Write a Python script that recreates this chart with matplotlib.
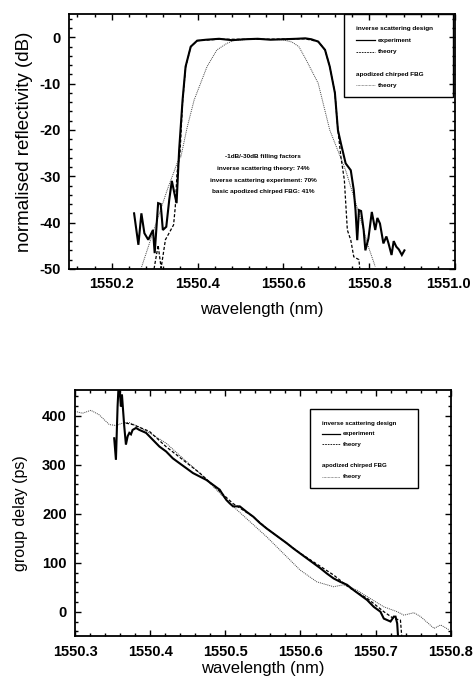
# normalised reflectivity and group delay of inverse scattering vs apodized chirped FBG
import numpy as np
import matplotlib.pyplot as plt
from matplotlib.ticker import MultipleLocator
from matplotlib.patches import Rectangle
from matplotlib.transforms import ScaledTranslation

plt.rcParams['font.family'] = ['Liberation Sans', 'DejaVu Sans']
plt.rcParams['axes.unicode_minus'] = False

# ---- reflectivity panel (dB) ----
refl_exp_wl = [1550.252, 1550.262, 1550.269, 1550.276, 1550.285, 1550.296, 1550.300, 1550.308,
               1550.314, 1550.319, 1550.327, 1550.334, 1550.340, 1550.346, 1550.351, 1550.357,
               1550.365, 1550.372, 1550.384, 1550.399, 1550.42, 1550.45, 1550.48, 1550.51,
               1550.54, 1550.57, 1550.60, 1550.63, 1550.651, 1550.665, 1550.681, 1550.697,
               1550.708, 1550.720, 1550.727, 1550.734, 1550.745, 1550.757, 1550.764, 1550.768,
               1550.772, 1550.776, 1550.781, 1550.787, 1550.791, 1550.798, 1550.806, 1550.814,
               1550.819, 1550.825, 1550.833, 1550.840, 1550.845, 1550.852, 1550.857, 1550.863,
               1550.869, 1550.876, 1550.882]
refl_exp_db = [-38.0, -44.8, -38.0, -42.3, -43.7, -41.6, -46.6, -35.8,
               -36.0, -41.6, -40.9, -35.0, -31.0, -33.7, -35.8, -24.3,
               -13.5, -6.3, -2.0, -0.7, -0.5, -0.3, -0.6, -0.4,
               -0.3, -0.5, -0.4, -0.3, -0.2, -0.4, -0.9, -2.7,
               -6.3, -12.0, -20.0, -22.9, -27.2, -28.7, -33.0, -37.3,
               -43.8, -37.3, -37.5, -41.6, -46.0, -43.5, -37.7, -41.6,
               -39.0, -40.2, -44.5, -43.0, -44.5, -47.0, -44.0, -45.2,
               -45.8, -47.0, -46.0]

refl_inv_wl = [1550.2985, 1550.308, 1550.315, 1550.325, 1550.344, 1550.348, 1550.352, 1550.359,
               1550.365, 1550.372, 1550.384, 1550.399, 1550.45, 1550.55, 1550.65, 1550.681,
               1550.697, 1550.708, 1550.720, 1550.727, 1550.734, 1550.742, 1550.749, 1550.757,
               1550.764, 1550.776, 1550.778]
refl_inv_db = [-50.0, -44.9, -49.8, -43.7, -40.5, -36.6, -29.3, -25.0,
               -14.0, -6.5, -2.0, -0.7, -0.4, -0.4, -0.3, -0.9,
               -2.7, -6.3, -12.0, -20.0, -25.8, -30.8, -41.6, -43.8,
               -47.4, -48.0, -50.0]

refl_apo_wl = [1550.268, 1550.298, 1550.329, 1550.355, 1550.361, 1550.376, 1550.392, 1550.407,
               1550.422, 1550.445, 1550.468, 1550.483, 1550.52, 1550.56, 1550.598, 1550.620,
               1550.636, 1550.651, 1550.681, 1550.708, 1550.745, 1550.776, 1550.798, 1550.814]
refl_apo_db = [-50.0, -41.6, -33.0, -26.5, -25.8, -19.3, -13.5, -9.9,
               -6.3, -2.7, -1.3, -0.7, -0.4, -0.4, -0.5, -1.0,
               -2.0, -4.5, -9.9, -20.0, -28.7, -38.0, -45.2, -49.5]

# ---- group delay panel (ps) ----
gd_exp_wl = [1550.3521, 1550.3544, 1550.3566, 1550.3579, 1550.3597, 1550.3610, 1550.3624, 1550.3642,
             1550.3655, 1550.3677, 1550.3700, 1550.3722, 1550.3744, 1550.3766, 1550.3811, 1550.3856,
             1550.3945, 1550.4034, 1550.4123, 1550.4212, 1550.4301, 1550.4390, 1550.4480, 1550.4569,
             1550.4658, 1550.4747, 1550.4836, 1550.4925, 1550.4970, 1550.5014, 1550.5059, 1550.5103,
             1550.5192, 1550.5282, 1550.5371, 1550.5460, 1550.5549, 1550.5638, 1550.5727, 1550.5816,
             1550.5906, 1550.5995, 1550.6084, 1550.6173, 1550.6262, 1550.6351, 1550.6440, 1550.6529,
             1550.6619, 1550.6708, 1550.6797, 1550.6886, 1550.6975, 1550.7064, 1550.7109, 1550.7198,
             1550.7242, 1550.7265, 1550.7287, 1550.7300]
gd_exp_ps = [354, 310, 419, 460, 446, 419, 443, 405,
             378, 341, 358, 365, 362, 371, 375, 371,
             365, 351, 337, 327, 313, 303, 293, 283,
             276, 269, 259, 249, 238, 228, 221, 215,
             215, 204, 194, 181, 170, 160, 150, 140,
             129, 119, 109, 99, 89, 78, 68, 61,
             55, 44, 34, 24, 10, 0, -14, -20,
             -10, -10, -24, -55]

gd_inv_wl = [1550.3677, 1550.3766, 1550.399, 1550.421, 1550.466, 1550.510, 1550.537, 1550.555,
             1550.600, 1550.644, 1550.666, 1550.689, 1550.711, 1550.724, 1550.733, 1550.735]
gd_inv_ps = [385, 382, 368, 337, 283, 221, 194, 170,
             119, 75, 48, 27, 0, -14, -17, -55]

gd_apo_wl = [1550.300, 1550.3098, 1550.321, 1550.332, 1550.3455, 1550.3544, 1550.3633, 1550.3722,
             1550.3856, 1550.4034, 1550.4212, 1550.4435, 1550.4658, 1550.488, 1550.5103, 1550.5326,
             1550.5549, 1550.5772, 1550.5995, 1550.6217, 1550.644, 1550.6574, 1550.6752, 1550.6886,
             1550.7109, 1550.7287, 1550.7376, 1550.751, 1550.7599, 1550.7777, 1550.7866, 1550.7978]
gd_apo_ps = [409, 405, 411, 402, 382, 380, 385, 386,
             377, 361, 344, 313, 283, 249, 215, 184,
             153, 119, 85, 61, 51, 55, 44, 31,
             10, 0, -7, -2, -10, -34, -27, -37]

notes = ['-1dB/-30dB filling factors', 'inverse scattering theory: 74%',
         'inverse scattering experiment: 70%', 'basic apodized chirped FBG: 41%']

fig = plt.figure(figsize=(4.75, 6.79), dpi=100)
ax1 = fig.add_axes([0.145, 0.604, 0.813, 0.375])
ax2 = fig.add_axes([0.158, 0.063, 0.791, 0.363])

exp_kw = dict(color='black', lw=1.5, solid_joinstyle='miter')
inv_kw = dict(color='black', lw=0.9, linestyle=(0, (2.5, 1.5)))
apo_kw = dict(color='#444444', lw=0.7, linestyle=(0, (1, 1)))

ax1.plot(refl_apo_wl, refl_apo_db, **apo_kw)
ax1.plot(refl_inv_wl, refl_inv_db, **inv_kw)
ax1.plot(refl_exp_wl, refl_exp_db, **exp_kw)
ax1.set_xlim(1550.1, 1551.0)
ax1.set_ylim(-50, 5)
ax1.xaxis.set_minor_locator(MultipleLocator(0.04))
ax1.yaxis.set_major_locator(MultipleLocator(10))
ax1.yaxis.set_minor_locator(MultipleLocator(2))
ax1.set_xticks([1550.2, 1550.4, 1550.6, 1550.8, 1551.0])
ax1.set_xticklabels(['1550.2', '1550.4', '1550.6', '1550.8', '1551.0'])
ax1.set_xlabel('wavelength (nm)', fontsize=12, labelpad=8)
ax1.set_ylabel('normalised reflectivity (dB)', fontsize=13.5, labelpad=4)

for i, t in enumerate(notes):
    ax1.text(0.503, 0.443 - i * 0.047, t, transform=ax1.transAxes, ha='center', va='center',
             fontsize=4.6, fontweight='bold')

ax2.plot(gd_apo_wl, gd_apo_ps, **apo_kw)
ax2.plot(gd_inv_wl, gd_inv_ps, **inv_kw)
ax2.plot(gd_exp_wl, gd_exp_ps, **exp_kw)
ax2.set_xlim(1550.3, 1550.8)
ax2.set_ylim(-50, 453)
ax2.xaxis.set_minor_locator(MultipleLocator(0.02))
ax2.yaxis.set_major_locator(MultipleLocator(100))
ax2.yaxis.set_minor_locator(MultipleLocator(20))
ax2.set_xticks([1550.3, 1550.4, 1550.5, 1550.6, 1550.7, 1550.8])
ax2.set_xticklabels(['1550.3', '1550.4', '1550.5', '1550.6', '1550.7', '1550.8'])
ax2.set_xlabel('wavelength (nm)', fontsize=12, labelpad=2)
ax2.set_ylabel('group delay (ps)', fontsize=11.5, labelpad=10)

for ax in (ax1, ax2):
    ax.tick_params(which='both', direction='in', top=True, right=True, width=1.0)
    ax.tick_params(which='major', length=4, labelsize=10.5, pad=6)
    ax.tick_params(which='minor', length=2)
    for lab in ax.get_xticklabels() + ax.get_yticklabels():
        lab.set_fontweight('bold')
    for s in ax.spines.values():
        s.set_linewidth(1.3)

# keep the last top-panel tick label inside the figure edge
last = ax1.get_xticklabels()[-1]
last.set_transform(last.get_transform() + ScaledTranslation(-5 / 72, 0, fig.dpi_scale_trans))


def legend_box(ax, x0, x1, y0, y1, rows, line_x0, line_x1, fs):
    ax.add_patch(Rectangle((x0, y0), x1 - x0, y1 - y0, transform=ax.transAxes,
                           fill=False, lw=1.0, color='black', clip_on=False))
    for y, txt, kw in rows:
        if kw is None:
            ax.text(line_x0, y, txt, transform=ax.transAxes, fontsize=fs, fontweight='bold',
                    va='center', ha='left')
        else:
            ax.plot([line_x0, line_x1], [y, y], transform=ax.transAxes, **kw)
            ax.text(line_x1 + 0.008, y, txt, transform=ax.transAxes, fontsize=fs,
                    fontweight='bold', va='center', ha='left')


leg_exp = dict(color='black', lw=0.9)
leg_inv = dict(color='black', lw=0.6, linestyle=(0, (2, 1.2)))
leg_apo = dict(color='#444444', lw=0.5, linestyle=(0, (1, 1)))

legend_box(ax1, 0.712, 0.995, 0.675, 1.0,
           [(0.945, 'inverse scattering design', None),
            (0.898, 'experiment', leg_exp),
            (0.852, 'theory', leg_inv),
            (0.765, 'apodized chirped FBG', None),
            (0.722, 'theory', leg_apo)],
           0.744, 0.793, 4.6)

legend_box(ax2, 0.625, 0.912, 0.602, 0.923,
           [(0.865, 'inverse scattering design', None),
            (0.821, 'experiment', leg_exp),
            (0.779, 'theory', leg_inv),
            (0.691, 'apodized chirped FBG', None),
            (0.648, 'theory', leg_apo)],
           0.656, 0.705, 4.4)

plt.savefig('out.png', dpi=100)
